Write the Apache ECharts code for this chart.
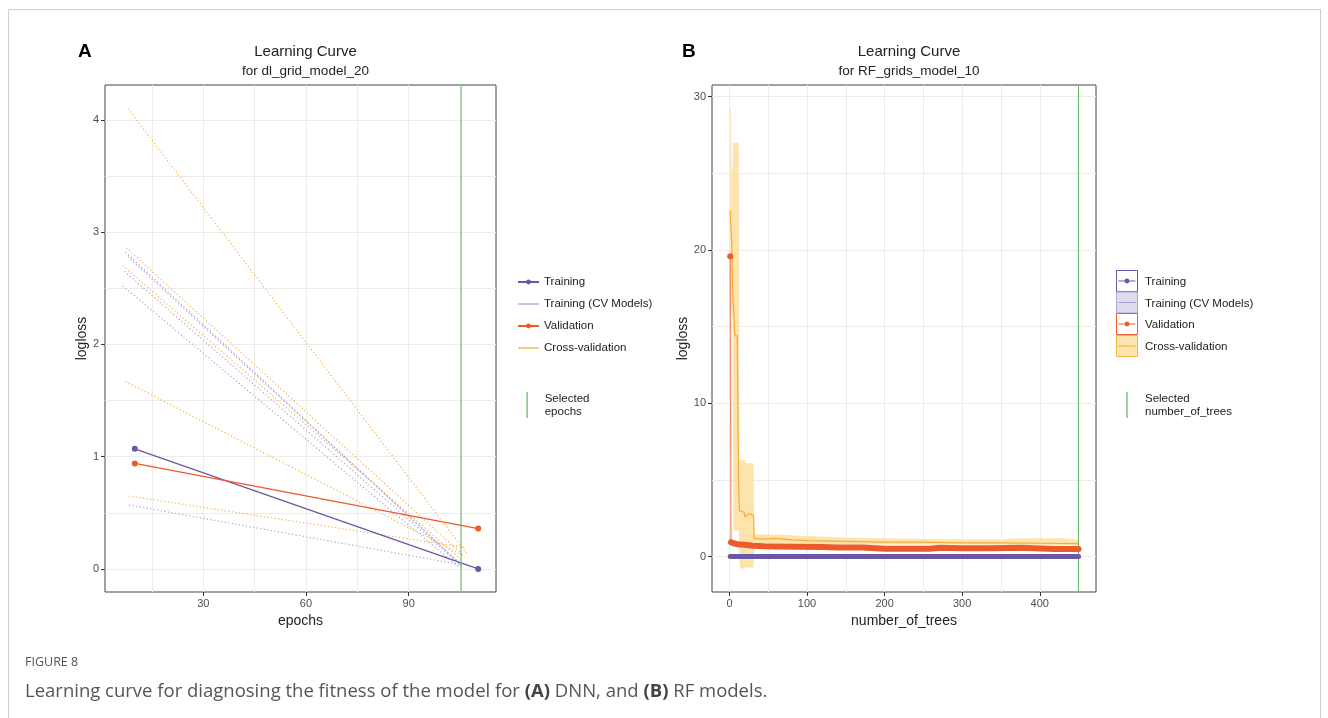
<!DOCTYPE html>
<html>
<head>
<meta charset="utf-8">
<script src="https://cdn.jsdelivr.net/npm/echarts@6/dist/echarts.min.js"></script>
<style>
html,body{margin:0;padding:0;background:#fff;}
#c{position:absolute;left:0;top:0;width:1328px;height:718px;}
#frame{position:absolute;left:8px;top:9px;width:1311px;height:760px;border:1px solid #cfcfcf;pointer-events:none;}
</style>
</head>
<body>
<div id="c"></div>
<div id="frame"></div>
<script>
// ---------------- Panel A data (DNN) ----------------
const epochsA = [10, 110.3];
const trainLossA = [1.07, 0.0];
const validLossA = [0.94, 0.36];
const cvTrainStartEpoch = [7.3, 8.0, 7.0, 6.5, 8.3];
const cvTrainEndEpoch   = [105.5, 106.0, 105.0, 104.5, 105.0];
const cvTrainStartLoss  = [2.82, 2.78, 2.65, 2.52, 0.57];
const cvTrainEndLoss    = [0.03, 0.02, 0.04, 0.02, 0.04];
const cvValidStartEpoch = [8.0, 7.5, 6.5, 7.3, 8.2];
const cvValidEndEpoch   = [107.4, 106.0, 105.5, 106.5, 106.8];
const cvValidStartLoss  = [4.10, 2.86, 2.70, 1.67, 0.65];
const cvValidEndLoss    = [0.12, 0.12, 0.08, 0.11, 0.19];
const selectedEpochs = 105.3;
const xRangeA = [1.3, 115.5];
const yRangeA = [-0.205, 4.31];
const xTicksA = [30, 60, 90];
const yTicksA = [0, 1, 2, 3, 4];
const xGridA = [15, 30, 45, 60, 75, 90, 105];
const yGridA = [0, 0.5, 1, 1.5, 2, 2.5, 3, 3.5, 4];

// ---------------- Panel B data (RF) ----------------
const treesTrainB = [1, 450];
const trainLossB = [0.01, 0.01];
const treesValidB = [1, 2, 5, 10, 20, 30, 45, 60, 90, 120, 140, 172, 174, 200, 258, 260, 271, 273, 300, 335, 337, 376, 378, 420, 450];
const validLossB  = [19.6, 0.95, 0.88, 0.82, 0.78, 0.72, 0.68, 0.66, 0.65, 0.63, 0.6, 0.6, 0.5, 0.52, 0.52, 0.58, 0.58, 0.55, 0.56, 0.56, 0.58, 0.58, 0.5, 0.5, 0.5];
const treesCvB = [1, 2, 3, 4, 6, 7, 10, 11, 12, 13, 19, 20, 25, 31, 32, 40, 60, 80, 100, 150, 200, 250, 300, 350, 400, 450];
const cvLossB  = [22.6, 21.4, 20.4, 17.4, 17.4, 14.4, 14.4, 8.7, 4.0, 3.0, 2.9, 2.6, 2.8, 2.7, 1.2, 1.15, 1.2, 1.1, 1.05, 1.0, 0.95, 0.95, 0.9, 0.9, 0.88, 0.85];
const treesRibB = [1, 2, 3, 4, 5, 12, 13, 14, 20, 21, 31, 32, 60, 100, 150, 250, 350, 370, 430, 450];
const ribLowB   = [16.0, 16.0, 15.6, 15.6, 1.7, 1.7, -0.3, -0.76, -0.76, -0.7, -0.7, 0.9, 0.9, 0.85, 0.8, 0.8, 0.78, 0.78, 0.75, 0.75];
const ribHighB  = [29.2, 29.2, 25.2, 25.2, 27.0, 27.0, 6.3, 6.3, 6.3, 6.1, 6.1, 1.45, 1.45, 1.35, 1.25, 1.15, 1.12, 1.2, 1.2, 1.1];
const selectedTrees = 450;
const xRangeB = [-22.5, 472.5];
const yRangeB = [-2.3, 30.76];
const xTicksB = [0, 100, 200, 300, 400];
const yTicksB = [0, 10, 20, 30];
const xGridB = [0, 50, 100, 150, 200, 250, 300, 350, 400, 450];
const yGridB = [0, 5, 10, 15, 20, 25, 30];

// ---------------- styles ----------------
const FONT = 'Liberation Sans, Arial, sans-serif';
const pal = {
  train: '#6a58a6', valid: '#ec5b2c', cvTrain: '#a49bd3', cv: '#f7ab38',
  ribbon: '#fde4ac', sel: '#5fb760', grid: '#eeebe9', border: '#444', tick: '#4d4d4d'
};

const zip = (xs, ys) => xs.map((x, i) => [x, ys[i]]);

function mainX(gridIndex, range, ticks, name) {
  return {
    type: 'value', gridIndex, min: range[0], max: range[1],
    name, nameLocation: 'middle', nameGap: 21,
    nameTextStyle: { fontSize: 14, color: '#222', fontFamily: FONT },
    axisLine: { show: false, onZero: false },
    axisTick: { show: true, inside: false, length: 4, customValues: ticks, lineStyle: { color: '#333' } },
    axisLabel: { customValues: ticks, color: pal.tick, fontSize: 11, margin: 6, fontFamily: FONT },
    splitLine: { show: false }
  };
}
function mainY(gridIndex, range, ticks, name, gap) {
  return {
    type: 'value', gridIndex, min: range[0], max: range[1],
    name, nameLocation: 'middle', nameGap: gap,
    nameTextStyle: { fontSize: 14, color: '#222', fontFamily: FONT },
    axisLine: { show: false, onZero: false },
    axisTick: { show: true, inside: false, length: 4, customValues: ticks, lineStyle: { color: '#333' } },
    axisLabel: { customValues: ticks, color: pal.tick, fontSize: 11, margin: 6, fontFamily: FONT },
    splitLine: { show: false }
  };
}
function helperAxis(gridIndex, range, grid) {
  return {
    type: 'value', gridIndex, min: range[0], max: range[1],
    axisLine: { show: false, onZero: false },
    axisTick: { show: false, customValues: grid },
    axisLabel: { show: false, customValues: grid },
    splitLine: { show: true, lineStyle: { color: pal.grid, width: 1 } }
  };
}

const series = [];
// Panel A: CV model lines (dotted)
for (let i = 0; i < cvTrainStartEpoch.length; i++) {
  series.push({
    type: 'line', name: 'Training (CV Models)', xAxisIndex: 0, yAxisIndex: 0,
    symbol: 'none', silent: true, z: 2,
    data: [[cvTrainStartEpoch[i], cvTrainStartLoss[i]], [cvTrainEndEpoch[i], cvTrainEndLoss[i]]],
    lineStyle: { color: pal.cvTrain, width: 1.1, type: [1.2, 2.4] },
    itemStyle: { color: pal.cvTrain }
  });
}
for (let i = 0; i < cvValidStartEpoch.length; i++) {
  series.push({
    type: 'line', name: 'Cross-validation', xAxisIndex: 0, yAxisIndex: 0,
    symbol: 'none', silent: true, z: 2,
    data: [[cvValidStartEpoch[i], cvValidStartLoss[i]], [cvValidEndEpoch[i], cvValidEndLoss[i]]],
    lineStyle: { color: pal.cv, width: 1.1, type: [1.2, 2.4] },
    itemStyle: { color: pal.cv }
  });
}
series.push({
  type: 'line', name: 'Training', xAxisIndex: 0, yAxisIndex: 0, z: 4,
  symbol: 'circle', symbolSize: 6, data: zip(epochsA, trainLossA),
  lineStyle: { color: pal.train, width: 1.3 }, itemStyle: { color: pal.train }
});
series.push({
  type: 'line', name: 'Validation', xAxisIndex: 0, yAxisIndex: 0, z: 4,
  symbol: 'circle', symbolSize: 6, data: zip(epochsA, validLossA),
  lineStyle: { color: pal.valid, width: 1.3 }, itemStyle: { color: pal.valid }
});
// selected epochs: vertical rule spanning the panel
series.push({
  type: 'line', name: 'Selected epochs', xAxisIndex: 0, yAxisIndex: 0, z: 6, symbol: 'none', silent: true,
  data: [[selectedEpochs, yRangeA[0]], [selectedEpochs, yRangeA[1]]],
  itemStyle: { color: pal.sel }, lineStyle: { color: pal.sel, width: 1, type: 'solid' }
});

// Panel B: cross-validation ribbon (polygon through the axis scales)
series.push({
  type: 'custom', name: 'cvRibbonB', xAxisIndex: 2, yAxisIndex: 2, silent: true, z: 1,
  data: treesRibB.map((t, i) => [t, ribLowB[i], ribHighB[i]]),
  encode: { x: 0, y: [1, 2] },
  renderItem: (params, api) => {
    if (params.dataIndex !== 0) return null;
    const up = treesRibB.map((t, i) => api.coord([t, ribHighB[i]]));
    const lo = treesRibB.map((t, i) => api.coord([t, ribLowB[i]])).reverse();
    return { type: 'polygon', shape: { points: up.concat(lo) }, style: { fill: pal.ribbon } };
  }
});
series.push({
  type: 'line', name: 'cvMeanB', xAxisIndex: 2, yAxisIndex: 2, symbol: 'none', z: 3,
  data: zip(treesCvB, cvLossB), lineStyle: { color: pal.cv, width: 1.2 }
});
series.push({
  type: 'line', name: 'validThinB', xAxisIndex: 2, yAxisIndex: 2, symbol: 'none', z: 4,
  data: zip(treesValidB, validLossB).map((p, i) => i === 0 ? { value: p, symbol: 'circle', symbolSize: 6 } : { value: p }),
  lineStyle: { color: '#f0906e', width: 1.3 }, itemStyle: { color: pal.valid }
});
series.push({
  type: 'line', name: 'validThickB', xAxisIndex: 2, yAxisIndex: 2, symbol: 'none', z: 5,
  data: zip(treesValidB.slice(1), validLossB.slice(1)),
  lineStyle: { color: pal.valid, width: 6, cap: 'round', join: 'round' }
});
series.push({
  type: 'line', name: 'trainThickB', xAxisIndex: 2, yAxisIndex: 2, symbol: 'none', z: 5,
  data: zip(treesTrainB, trainLossB),
  lineStyle: { color: pal.train, width: 5, cap: 'round' }
});
series.push({
  type: 'line', name: 'selectedB', xAxisIndex: 2, yAxisIndex: 2, data: [], z: 6,
  markLine: { silent: true, symbol: ['none', 'none'], label: { show: false },
    lineStyle: { color: pal.sel, width: 1, type: 'solid' }, data: [{ xAxis: selectedTrees }] }
});

// legend B (drawn as graphic keys)
const legB = [];
const bx = 1116.5, bw = 21;
const rowsB = [
  { y: 270.5, label: 'Training', fill: '#ffffff', stroke: pal.train, line: pal.train, dot: pal.train },
  { y: 292, label: 'Training (CV Models)', fill: '#dedbef', stroke: '#aea6d6', line: pal.cvTrain, dot: null },
  { y: 313.5, label: 'Validation', fill: '#ffffff', stroke: pal.valid, line: pal.valid, dot: pal.valid },
  { y: 335.5, label: 'Cross-validation', fill: pal.ribbon, stroke: '#f6b648', line: pal.cv, dot: null }
];
rowsB.forEach(r => {
  legB.push({ type: 'rect', shape: { x: bx, y: r.y, width: bw, height: bw }, style: { fill: r.fill, stroke: r.stroke, lineWidth: 1 } });
  legB.push({ type: 'line', shape: { x1: bx + 2, y1: r.y + 10.5, x2: bx + bw - 2, y2: r.y + 10.5 }, style: { stroke: r.line, lineWidth: 1 } });
  if (r.dot) legB.push({ type: 'circle', shape: { cx: bx + bw / 2, cy: r.y + 10.5, r: 2.4 }, style: { fill: r.dot } });
  legB.push({ type: 'text', x: 1145, y: r.y + 11.5, style: { text: r.label, fontSize: 11.5, fontFamily: FONT, fill: '#222', verticalAlign: 'middle' } });
});
legB.push({ type: 'line', shape: { x1: 1127, y1: 392, x2: 1127, y2: 418 }, style: { stroke: pal.sel, lineWidth: 1.2 } });
legB.push({ type: 'text', x: 1145, y: 405, style: { text: 'Selected\nnumber_of_trees', fontSize: 11.5, lineHeight: 13, fontFamily: FONT, fill: '#222', verticalAlign: 'middle' } });

const option = {
  animation: false,
  backgroundColor: '#fff',
  textStyle: { fontFamily: FONT },
  title: [
    { text: 'A', left: 73, top: 37, textStyle: { fontSize: 19, fontWeight: 'bold', color: '#000', fontFamily: FONT } },
    { text: 'Learning Curve', left: 300.5, top: 39, textAlign: 'center', textStyle: { fontSize: 15, fontWeight: 'normal', color: '#222', fontFamily: FONT } },
    { text: 'for dl_grid_model_20', left: 300.5, top: 59, textAlign: 'center', textStyle: { fontSize: 13.5, fontWeight: 'normal', color: '#222', fontFamily: FONT } },
    { text: 'B', left: 677, top: 37, textStyle: { fontSize: 19, fontWeight: 'bold', color: '#000', fontFamily: FONT } },
    { text: 'Learning Curve', left: 904, top: 39, textAlign: 'center', textStyle: { fontSize: 15, fontWeight: 'normal', color: '#222', fontFamily: FONT } },
    { text: 'for RF_grids_model_10', left: 904, top: 59, textAlign: 'center', textStyle: { fontSize: 13.5, fontWeight: 'normal', color: '#222', fontFamily: FONT } },
    { text: 'FIGURE 8', left: 20, top: 651, textStyle: { fontSize: 12.5, fontWeight: 'normal', color: '#555', fontFamily: 'Open Sans, sans-serif' } },
    { text: 'Learning curve for diagnosing the fitness of the model for {b|(A)} DNN, and {b|(B)} RF models.', left: 20, top: 677,
      textStyle: { fontSize: 18.5, fontWeight: 'normal', color: '#555', fontFamily: 'Open Sans, sans-serif',
        rich: { b: { fontSize: 18.5, fontWeight: 'bold', color: '#444', fontFamily: 'Open Sans, sans-serif' } } } }
  ],
  legend: [
    { left: 517, top: 275, orient: 'vertical', padding: 0, itemWidth: 21, itemHeight: 6, itemGap: 8, selectedMode: false,
      textStyle: { fontSize: 11.5, color: '#222', lineHeight: 14, fontFamily: FONT },
      data: [
        { name: 'Training' },
        { name: 'Training (CV Models)', lineStyle: { type: 'solid', width: 1.2 }, itemStyle: { opacity: 0 } },
        { name: 'Validation' },
        { name: 'Cross-validation', lineStyle: { type: 'solid', width: 1.2 }, itemStyle: { opacity: 0 } }
      ] },
    { left: 526.5, top: 392, orient: 'vertical', padding: 0, itemWidth: 1.2, itemHeight: 26, icon: 'rect', selectedMode: false,
      formatter: () => 'Selected\nepochs',
      textStyle: { fontSize: 11.5, color: '#222', lineHeight: 13, fontFamily: FONT, padding: [0, 0, 0, 12] },
      data: [{ name: 'Selected epochs', itemStyle: { color: pal.sel } }] }
  ],
  grid: [
    { left: 105, top: 85, width: 391, height: 507, show: true, borderColor: pal.border, borderWidth: 1, backgroundColor: 'transparent', containLabel: false, outerBoundsMode: 'none' },
    { left: 712, top: 85, width: 384, height: 507, show: true, borderColor: pal.border, borderWidth: 1, backgroundColor: 'transparent', containLabel: false, outerBoundsMode: 'none' }
  ],
  xAxis: [
    mainX(0, xRangeA, xTicksA, 'epochs'),
    helperAxis(0, xRangeA, xGridA),
    mainX(1, xRangeB, xTicksB, 'number_of_trees'),
    helperAxis(1, xRangeB, xGridB)
  ],
  yAxis: [
    mainY(0, yRangeA, yTicksA, 'logloss', 16),
    helperAxis(0, yRangeA, yGridA),
    mainY(1, yRangeB, yTicksB, 'logloss', 22),
    helperAxis(1, yRangeB, yGridB)
  ],
  graphic: legB,
  series
};

const chart = echarts.init(document.getElementById('c'), null, { renderer: 'canvas' });
chart.setOption(option);
</script>
</body>
</html>
